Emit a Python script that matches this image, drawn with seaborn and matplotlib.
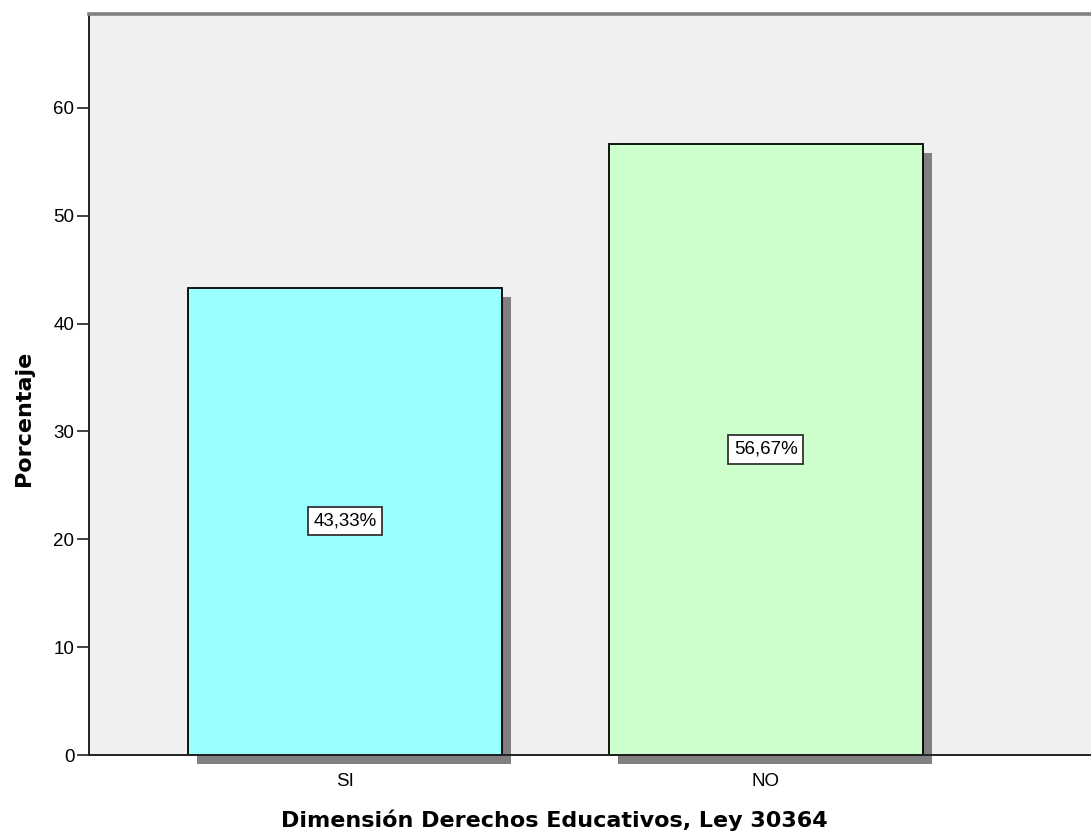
import matplotlib
matplotlib.use("Agg")
import matplotlib.pyplot as plt
import matplotlib.patheffects as pe
import seaborn as sns
import pandas as pd

# Data
categories = ["SI", "NO"]
percentages = [43.33, 56.67]
value_labels = ["43,33%", "56,67%"]
bar_colors = ["#99FFFF", "#CCFFCC"]
y_ticks = [0, 10, 20, 30, 40, 50, 60]

sns.set_theme(style="white")
plt.rcParams["font.family"] = ["Liberation Sans", "DejaVu Sans"]
plt.rcParams["text.color"] = "black"
plt.rcParams["axes.labelcolor"] = "black"
plt.rcParams["xtick.color"] = "black"
plt.rcParams["ytick.color"] = "black"

W, H = 1091, 838
fig = plt.figure(figsize=(W / 100, H / 100), dpi=100)
left, right, top, bottom = 89, 1091, 14, 755
ax = fig.add_axes([left / W, (H - bottom) / H, (right - left) / W, (bottom - top) / H])
ax.set_facecolor("#F0F0F0")

df = pd.DataFrame({"cat": categories, "pct": percentages})
sns.barplot(data=df, x="cat", y="pct", hue="cat", palette=bar_colors,
            order=categories, width=0.748, edgecolor="black", linewidth=1.3,
            legend=False, ax=ax, saturation=1)

# Drop shadow behind each bar, allowed to spill below the axis line
shadow = [pe.SimplePatchShadow(offset=(6.5, -6.8), shadow_rgbFace="#808080", alpha=1.0),
          pe.Normal()]
for patch in ax.patches:
    patch.set_path_effects(shadow)
    patch.set_clip_on(False)

# Value labels in the middle of each bar
for i, (v, lab) in enumerate(zip(percentages, value_labels)):
    ax.text(i, v / 2, lab, ha="center", va="center", fontsize=13.5, color="black",
            bbox=dict(boxstyle="square,pad=0.3", facecolor="white",
                      edgecolor="#333333", linewidth=1.3))

ax.set_xlim(-0.608, 1.772)
ax.set_ylim(0, 68.7)
ax.set_yticks(y_ticks)
ax.set_yticklabels([str(t) for t in y_ticks], fontsize=13.5)
ax.set_xticks(range(len(categories)))
ax.set_xticklabels(categories, fontsize=13.5)
ax.tick_params(axis="y", direction="out", length=8.6, width=1.3, color="#333333", pad=2, left=True)
ax.tick_params(axis="x", direction="out", length=2, width=1, color="#333333", pad=11, bottom=True)

for s in ["left", "bottom"]:
    ax.spines[s].set_color("#222222")
    ax.spines[s].set_linewidth(1.4)
ax.spines["right"].set_visible(False)
ax.spines["top"].set_color("#808080")
ax.spines["top"].set_linewidth(2.6)

ax.set_xlabel("Dimensión Derechos Educativos, Ley 30364", fontsize=16,
              fontweight="bold", family="DejaVu Sans")
ax.set_ylabel("Porcentaje", fontsize=16, fontweight="bold", family="DejaVu Sans")
ax.xaxis.set_label_coords((554 - left) / (right - left), -(809 - bottom) / (bottom - top))
ax.yaxis.set_label_coords(-(left - 34) / (right - left), (bottom - 418) / (bottom - top))

fig.savefig("out.png", dpi=100)
